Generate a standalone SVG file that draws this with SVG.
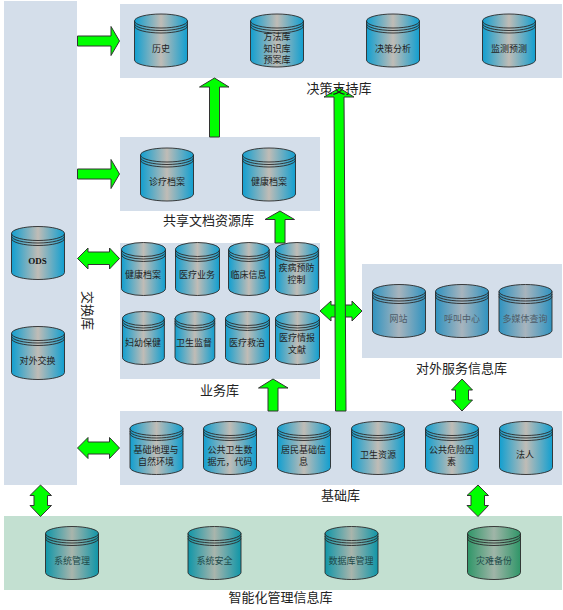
<svg xmlns="http://www.w3.org/2000/svg" width="563" height="610" viewBox="0 0 563 610">
<style>
.p{fill:#d4deea}
.pg{fill:#c3e0d1}
.lab{font-family:"Noto Sans CJK SC","Liberation Serif",serif;font-size:13px;fill:#222;text-anchor:middle}
.t{font-family:"Noto Sans CJK SC","Liberation Serif",serif;font-size:9px;fill:#222;text-anchor:middle}
.tf{fill:#4e5c68}
.tm{fill:#1e4a4a}
.ods{font-family:"Liberation Serif",serif;font-weight:bold;font-size:9px;fill:#111;text-anchor:middle}
.ar{fill:#00ff00;stroke:#333;stroke-width:1}
.s{stroke:#2a2a2a;stroke-width:.9;vector-effect:non-scaling-stroke}
.r{fill:none}
.fade .s{stroke:#3c4a55}
.mg .s{stroke:#1e4040}
</style>
<defs>
<linearGradient id="gb"><stop offset="0" stop-color="#119fd0"/><stop offset=".5" stop-color="#c0bcb6"/><stop offset="1" stop-color="#119fd0"/></linearGradient>
<linearGradient id="gf"><stop offset="0" stop-color="#2f93c0"/><stop offset=".5" stop-color="#a8b4bd"/><stop offset="1" stop-color="#2f93c0"/></linearGradient>
<linearGradient id="gt"><stop offset="0" stop-color="#0f96a8"/><stop offset=".5" stop-color="#a9b5ac"/><stop offset="1" stop-color="#0f96a8"/></linearGradient>
<linearGradient id="gg"><stop offset="0" stop-color="#2f9668"/><stop offset=".5" stop-color="#a0b5a8"/><stop offset="1" stop-color="#2f9668"/></linearGradient>
<g id="cyl">
<path class="s" d="M0 7V46A26.5 7 0 0 0 53 46V7A26.5 7 0 0 0 0 7Z" fill="inherit"/>
<path class="s r" d="M0 7A26.5 7 0 0 0 53 7M0 9.500A26.5 7 0 0 0 53 9.500M0 12A26.5 7 0 0 0 53 12"/>
</g>
</defs>

<g id="panels">
<rect class="p" x="4" y="1" width="73" height="484"/>
<rect class="p" x="120" y="4" width="442" height="74"/>
<rect class="p" x="120" y="137" width="200" height="74"/>
<rect class="p" x="120" y="243" width="200" height="136"/>
<rect class="p" x="362" y="264" width="200" height="94"/>
<rect class="p" x="120" y="411" width="442" height="74"/>
<rect class="pg" x="4" y="516" width="558" height="74"/>
</g>

<g id="connectors">
<path class="ar" d="M77.5 36H111V26.5L119.5 41L111 55.5V46H77.5Z"/>
<path class="ar" d="M77.5 169H111V159.5L119.5 174L111 188.5V179H77.5Z"/>
<path class="ar" d="M209.5 137V87H199.5L214.5 78L229 87H219.5V137Z"/>
<path class="ar" d="M275 243V219.5H265L280 211L294.5 219.5H285V243Z"/>
<path class="ar" d="M268 411V388H258.5L273 379L288 388H278V411Z"/>
<path class="ar" d="M77.5 258.5L88 248V252H109.5V248L119.5 258.5L109.5 269V264.5H88V269Z"/>
<path class="ar" d="M77.5 448L88 437.5V442H109.5V437.5L119.5 448L109.5 458.5V454H88V458.5Z"/>
<path class="ar" d="M320 311L331 301V305H352V301L362 311L352 321V317H331V321Z"/>
<path class="ar" d="M40.5 485L51.5 495.5H47.5V505.5H51.5L40.5 516.5L30 505.5H34V495.5H30Z"/>
<path class="ar" d="M462 379L472.5 390H468.5V400H472.5L462 411L451.5 400H455.5V390H451.5Z"/>
<path class="ar" d="M478 485L488.5 495.5H484.5V505.5H488.5L478 516.5L467 505.5H471V495.5H467Z"/>
<path class="ar" d="M335.5 411L334 97H324L339.5 88L354 97H344L346 411Z"/>
</g>

<g id="n-lishi" fill="url(#gb)"><use href="#cyl" transform="translate(134.5 14)"/><text class="t" x="161" y="51.500">历史</text></g>
<g id="n-fangfa" fill="url(#gb)"><use href="#cyl" transform="translate(250.5 14)"/><text class="t" x="277" y="39.500">方法库</text><text class="t" x="277" y="51.500">知识库</text><text class="t" x="277" y="63">预案库</text></g>
<g id="n-juece" fill="url(#gb)"><use href="#cyl" transform="translate(366.500 14)"/><text class="t" x="393" y="51.500">决策分析</text></g>
<g id="n-jiance" fill="url(#gb)"><use href="#cyl" transform="translate(482.500 14)"/><text class="t" x="509" y="51.500">监测预测</text></g>

<g id="n-zhenliao" fill="url(#gb)"><use href="#cyl" transform="translate(140.500 148)"/><text class="t" x="167" y="185">诊疗档案</text></g>
<g id="n-jiankang" fill="url(#gb)"><use href="#cyl" transform="translate(242.500 148)"/><text class="t" x="269" y="185">健康档案</text></g>

<g id="n-ods" fill="url(#gb)"><use href="#cyl" transform="translate(11.500 226.500)"/><text class="ods" x="37.500" y="263.500">ODS</text></g>
<g id="n-duiwai" fill="url(#gb)"><use href="#cyl" transform="translate(11.500 326.500)"/><text class="t" x="37.500" y="364">对外交换</text></g>

<g id="n-b1" fill="url(#gb)"><use href="#cyl" transform="translate(121.500 242.500) scale(.83 1)"/><text class="t" x="143" y="278">健康档案</text></g>
<g id="n-b2" fill="url(#gb)"><use href="#cyl" transform="translate(175.500 242.500) scale(.83 1)"/><text class="t" x="197" y="278">医疗业务</text></g>
<g id="n-b3" fill="url(#gb)"><use href="#cyl" transform="translate(228.500 242.500) scale(.77 1)"/><text class="t" x="248.500" y="278">临床信息</text></g>
<g id="n-b4" fill="url(#gb)"><use href="#cyl" transform="translate(275.500 242.500) scale(.81 1)"/><text class="t" x="296.500" y="271">疾病预防</text><text class="t" x="296.500" y="283">控制</text></g>
<g id="n-b5" fill="url(#gb)"><use href="#cyl" transform="translate(122.500 311.500) scale(.79 1)"/><text class="t" x="143" y="346">妇幼保健</text></g>
<g id="n-b6" fill="url(#gb)"><use href="#cyl" transform="translate(175 311.500) scale(.75 1)"/><text class="t" x="194" y="346">卫生监督</text></g>
<g id="n-b7" fill="url(#gb)"><use href="#cyl" transform="translate(225.500 311.500) scale(.83 1)"/><text class="t" x="247" y="346">医疗救治</text></g>
<g id="n-b8" fill="url(#gb)"><use href="#cyl" transform="translate(275.500 311.500) scale(.83 1)"/><text class="t" x="297" y="340.500">医疗情报</text><text class="t" x="297" y="352.500">文献</text></g>

<g id="n-wangzhan" class="fade" fill="url(#gf)"><use href="#cyl" transform="translate(372.500 284.500)"/><text class="t tf" x="398.500" y="321.500">网站</text></g>
<g id="n-hujiao" class="fade" fill="url(#gf)"><use href="#cyl" transform="translate(435.500 284.500)"/><text class="t tf" x="462" y="321.500">呼叫中心</text></g>
<g id="n-duomeiti" class="fade" fill="url(#gf)"><use href="#cyl" transform="translate(499 284.500)"/><text class="t tf" x="525" y="321.500">多媒体查询</text></g>

<g id="n-j1" fill="url(#gb)"><use href="#cyl" transform="translate(130 421.500)"/><text class="t" x="156" y="452.500">基础地理与</text><text class="t" x="156" y="464.500">自然环境</text></g>
<g id="n-j2" fill="url(#gb)"><use href="#cyl" transform="translate(203.500 421.500)"/><text class="t" x="230" y="452.500">公共卫生数</text><text class="t" x="230" y="464.500">据元，代码</text></g>
<g id="n-j3" fill="url(#gb)"><use href="#cyl" transform="translate(277.500 421.500)"/><text class="t" x="303.500" y="452.500">居民基础信</text><text class="t" x="303.500" y="464.500">息</text></g>
<g id="n-j4" fill="url(#gb)"><use href="#cyl" transform="translate(351.500 421.500)"/><text class="t" x="378" y="458">卫生资源</text></g>
<g id="n-j5" fill="url(#gb)"><use href="#cyl" transform="translate(425.500 421.500)"/><text class="t" x="451.500" y="452.500">公共危险因</text><text class="t" x="451.500" y="464.500">素</text></g>
<g id="n-j6" fill="url(#gb)"><use href="#cyl" transform="translate(499.500 421.500)"/><text class="t" x="525" y="458">法人</text></g>

<g id="n-m1" class="mg" fill="url(#gt)"><use href="#cyl" transform="translate(45.500 526.500)"/><text class="t tm" x="72" y="564">系统管理</text></g>
<g id="n-m2" class="mg" fill="url(#gt)"><use href="#cyl" transform="translate(188 526.500)"/><text class="t tm" x="214.500" y="564">系统安全</text></g>
<g id="n-m3" class="mg" fill="url(#gt)"><use href="#cyl" transform="translate(325 526.500)"/><text class="t tm" x="351" y="564">数据库管理</text></g>
<g id="n-m4" class="mg" fill="url(#gg)"><use href="#cyl" transform="translate(467.500 526.500)"/><text class="t tm" x="494" y="564">灾难备份</text></g>

<g id="labels">
<text class="lab" x="339" y="92.500">决策支持库</text>
<text class="lab" x="208.500" y="225">共享文档资源库</text>
<text class="lab" transform="translate(87 310.500) rotate(90)" y="4.500">交换库</text>
<text class="lab" x="219.500" y="395">业务库</text>
<text class="lab" x="461.500" y="373">对外服务信息库</text>
<text class="lab" x="340.500" y="500">基础库</text>
<text class="lab" x="280.500" y="602">智能化管理信息库</text>
</g>
</svg>
